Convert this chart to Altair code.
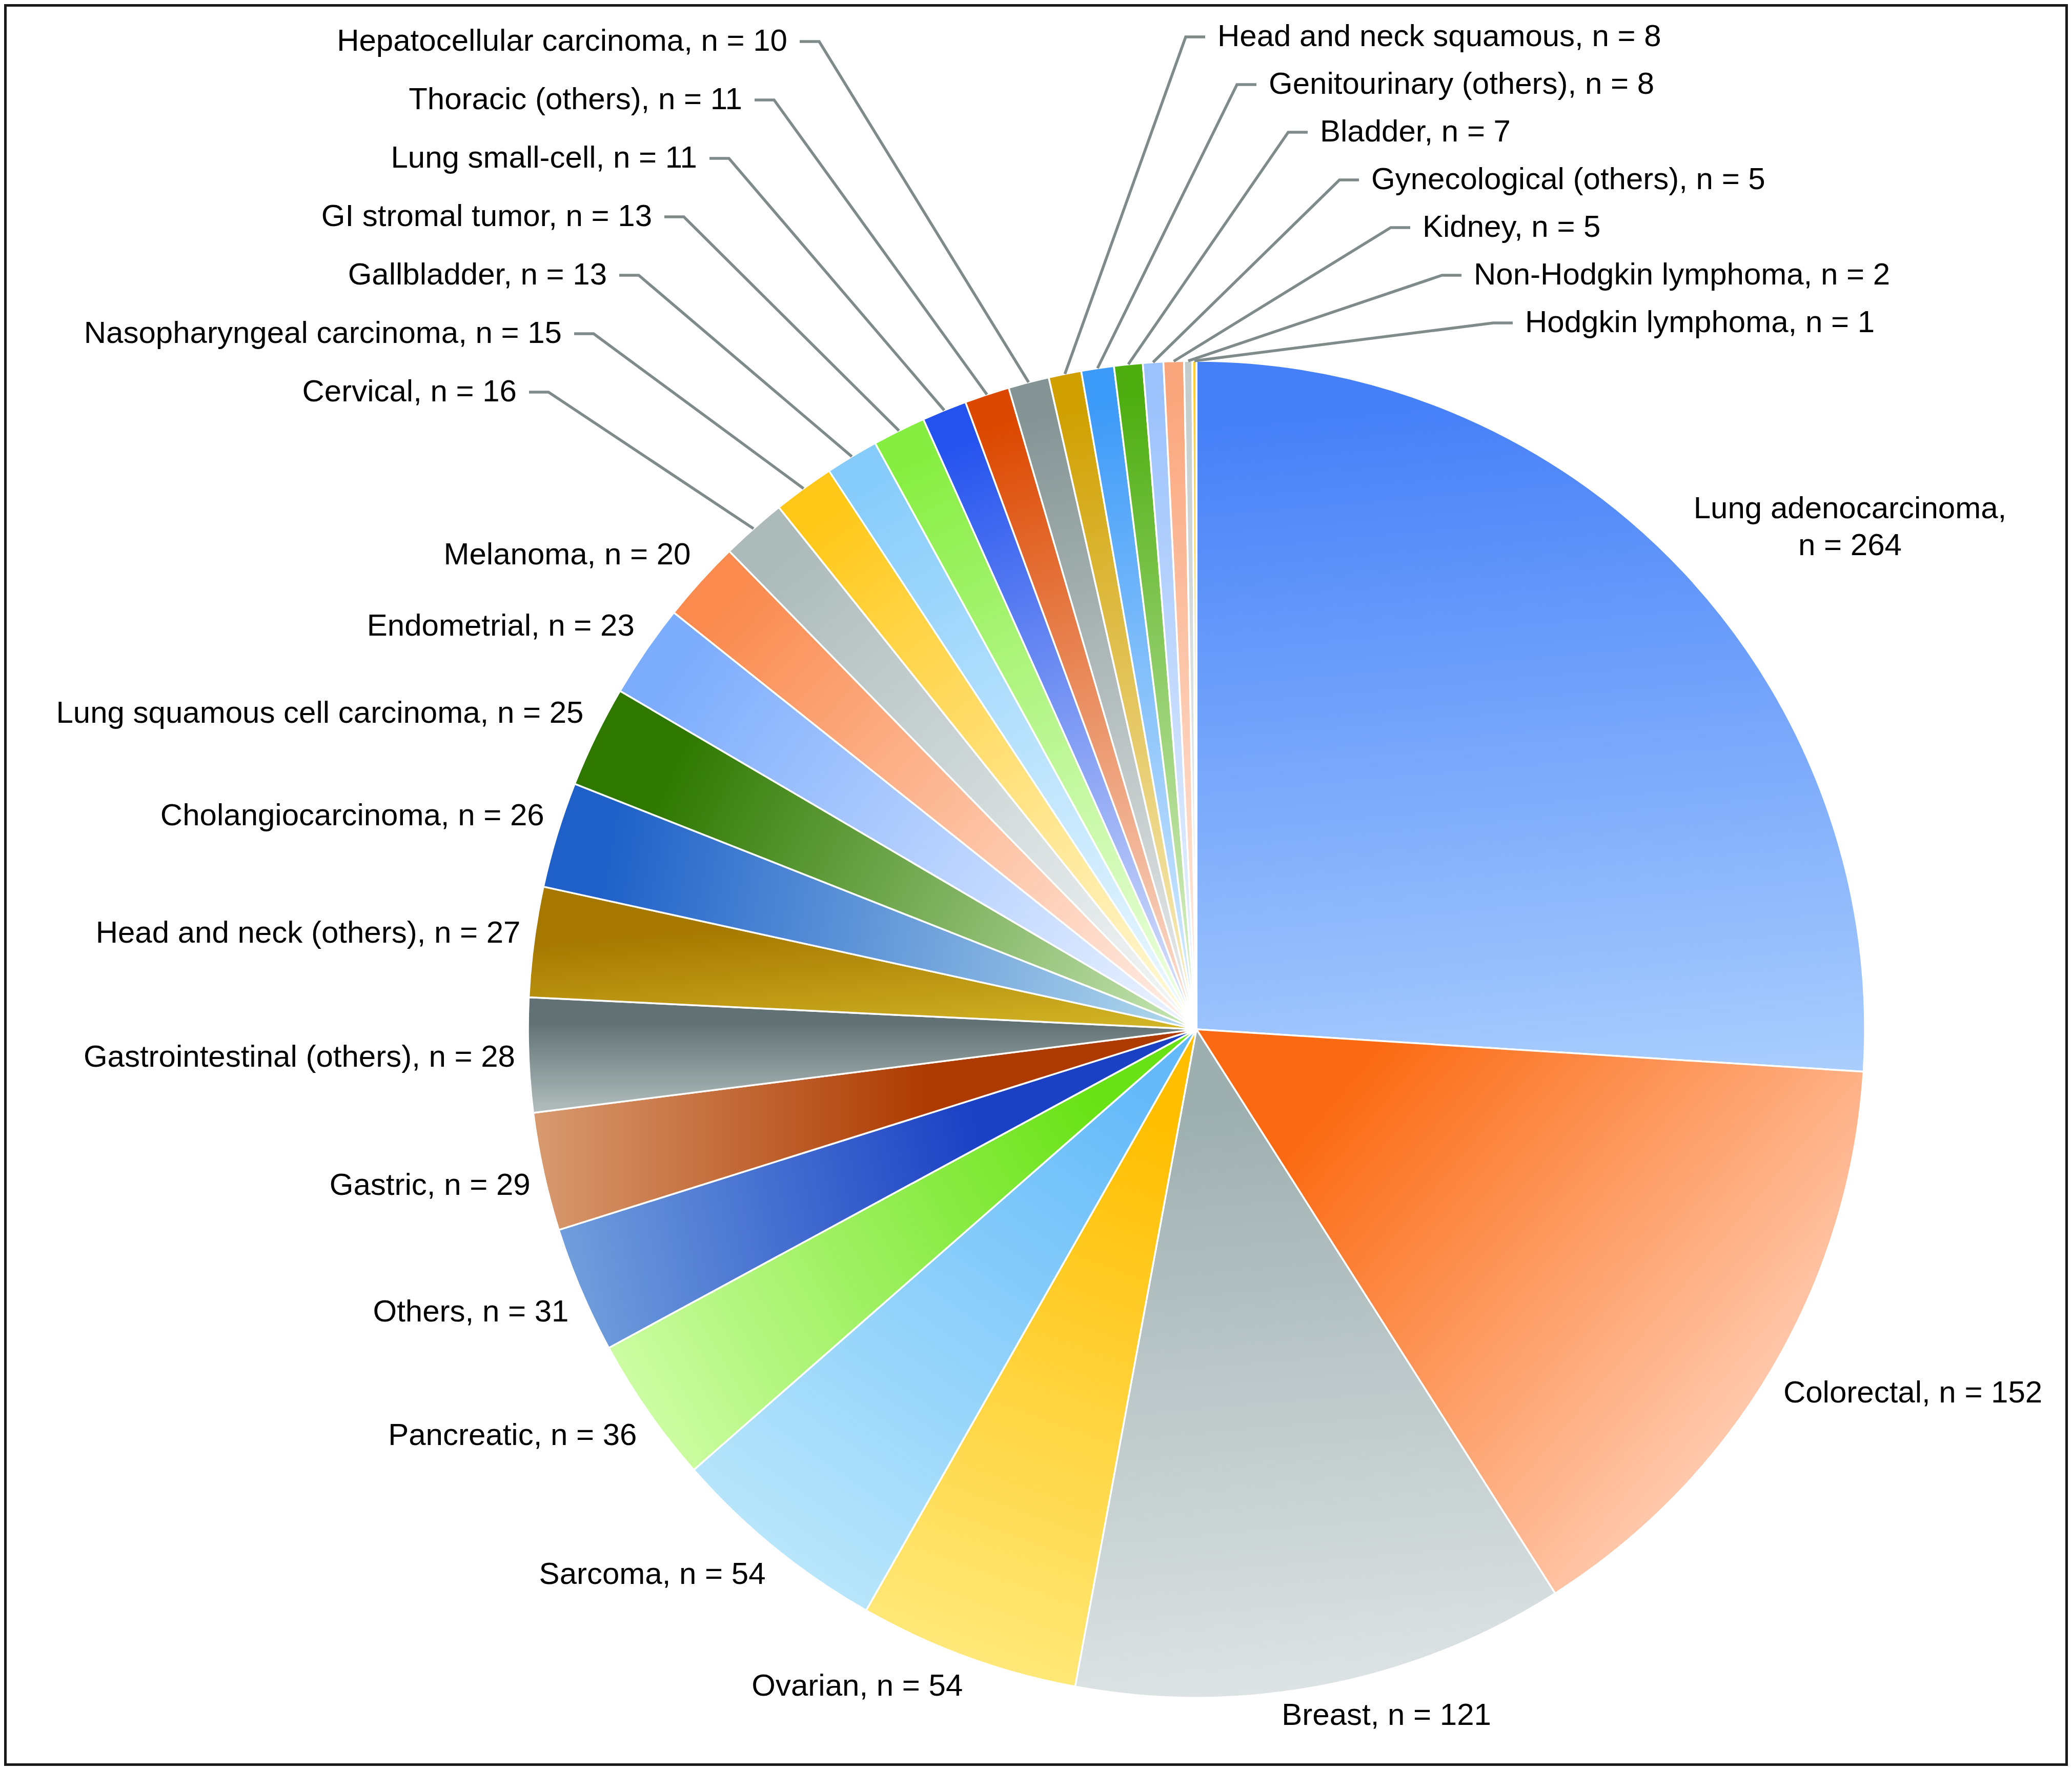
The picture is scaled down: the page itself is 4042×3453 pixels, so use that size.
import math
import altair as alt
import pandas as pd

# ---------------- data ----------------
categories = [
    "Lung adenocarcinoma", "Colorectal", "Breast", "Ovarian", "Sarcoma",
    "Pancreatic", "Others", "Gastric", "Gastrointestinal (others)",
    "Head and neck (others)", "Cholangiocarcinoma", "Lung squamous cell carcinoma",
    "Endometrial", "Melanoma", "Cervical", "Nasopharyngeal carcinoma", "Gallbladder",
    "GI stromal tumor", "Lung small-cell", "Thoracic (others)", "Hepatocellular carcinoma",
    "Head and neck squamous", "Genitourinary (others)", "Bladder",
    "Gynecological (others)", "Kidney", "Non-Hodgkin lymphoma", "Hodgkin lymphoma",
]
counts = [264, 152, 121, 54, 54, 36, 31, 29, 28, 27, 26, 25, 23, 20, 16, 15, 13, 13,
          11, 11, 10, 8, 8, 7, 5, 5, 2, 1]

# ---------------- styles ----------------
dark_colors = [
    "#4680F8", "#FB6A12", "#9EAFB0", "#FFBE00", "#64BAF9", "#68E214", "#1A40C4",
    "#AD3A00", "#627274", "#A67800", "#1E60C8", "#2E7800", "#7CACFC", "#FA8A4E",
    "#ACBABA", "#FFC818", "#86CCFA", "#86EE40", "#2452EE", "#DC4800", "#849494",
    "#D0A000", "#3C9AF8", "#4EAE10", "#9CC2FC", "#FAA67C", "#C4CCCC", "#FFD030",
]
light_colors = [
    "#AACEFD", "#FFC8AC", "#DDE3E4", "#FFE878", "#B8E6FB", "#CCFCA2", "#709EDC",
    "#D89A70", "#B2BEBE", "#D4B828", "#B4DAEC", "#C8E6B6", "#EEF4FF", "#FFF0EA",
    "#F6F8F8", "#FFFAE0", "#F0FAFF", "#F2FFE8", "#E0E8FA", "#FBE4D8", "#ECEEEE",
    "#FAF0C8", "#E0F0FE", "#E4F4D8", "#F0F6FF", "#FFF0E8", "#F4F6F6", "#FFF8D8",
]
hold_stops = [0.08, 0.22, 0.12, 0.15, 0.12, 0.18, 0.35, 0.4, 0.22, 0.28, 0.08, 0.12,
              0.05, 0.05, 0.05, 0.05, 0.05, 0.05, 0.05, 0.05, 0.05, 0.05, 0.05, 0.05,
              0.05, 0.05, 0.05, 0.05]
# direction of the gradient (dark -> light), degrees clockwise from "up"
grad_angle = [175, 130, 175, 200, 215, 240, 258, 270, 180, 175, 100, 115, 125, 132,
              138, 144, 150, 155, 158, 162, 165, 170, 172, 174, 176, 178, 180, 180]
wrapped = {"Lung adenocarcinoma"}

W, H = 4026, 3437
CX, CY = 2326, 2000          # pie centre in chart pixels
R = 1304
FONT = "Liberation Sans"
FS = 60
LINE_H = 72
TEXT_H = 66
GAP = 26
LINE_COLOR = "#7F8B8B"

TOTAL = sum(counts)
df = pd.DataFrame({"idx": list(range(len(categories))), "cat": categories, "n": counts})

# ---------------- geometry helpers ----------------
cum, starts, ends = 0, [], []
for v in counts:
    starts.append(cum)
    cum += v
    ends.append(cum)
ang = lambda v: v / TOTAL * 2 * math.pi


def pt(a, r):
    return (CX + r * math.sin(a), CY - r * math.cos(a))


def gradient(i):
    a0, a1 = ang(starts[i]), ang(ends[i])
    pts = [(CX, CY)] + [pt(a0 + (a1 - a0) * k / 240, R) for k in range(241)]
    xs = [p[0] for p in pts]
    ys = [p[1] for p in pts]
    x0, y0 = min(xs), min(ys)
    w = max(max(xs) - x0, 1e-6)
    h = max(max(ys) - y0, 1e-6)
    phi = math.radians(grad_angle[i])
    gx, gy = w * math.sin(phi), -h * math.cos(phi)
    nrm = math.hypot(gx, gy)
    gx, gy = gx / nrm, gy / nrm
    s = [((p[0] - x0) / w) * gx + ((p[1] - y0) / h) * gy for p in pts]
    smin, smax = min(s), max(s)
    return {
        "gradient": "linear",
        "x1": smin * gx, "y1": smin * gy, "x2": smax * gx, "y2": smax * gy,
        "stops": [
            {"offset": 0, "color": dark_colors[i]},
            {"offset": hold_stops[i], "color": dark_colors[i]},
            {"offset": 1, "color": light_colors[i]},
        ],
    }


CW = {" ": 278, ",": 278, "=": 584, "(": 333, ")": 333, "-": 333, ".": 278}
CW.update({d: 556 for d in "0123456789"})
CW.update(dict(zip("abcdefghijklmnopqrstuvwxyz",
                   [556, 556, 500, 556, 556, 278, 556, 556, 222, 222, 500, 222, 833,
                    556, 556, 556, 556, 333, 500, 278, 556, 500, 722, 500, 500, 500])))
CW.update(dict(zip("ABCDEFGHIJKLMNOPQRSTUVWXYZ",
                   [667, 667, 722, 722, 667, 611, 778, 722, 278, 500, 667, 556, 833,
                    722, 778, 667, 778, 722, 667, 611, 722, 667, 944, 667, 667, 611])))


def text_w(s):
    return sum(CW.get(c, 556) for c in s) / 1000 * FS


clip = lambda v: max(-1.0, min(1.0, v))

# ---------------- labels & leader lines ----------------
leader_idx = [i for i, v in enumerate(counts) if v <= 16]
half = len(leader_idx) // 2
left_group, right_group = leader_idx[:half], leader_idx[half:]

label_rows, line_rows = [], []
for i, (c, v) in enumerate(zip(categories, counts)):
    mid = ang((starts[i] + ends[i]) / 2)
    sep = ",\n" if c in wrapped else ", "
    label = f"{c}{sep}n = {v}"
    if i in left_group or i in right_group:
        ex, ey = pt(mid, R)
        if i in left_group:
            j = left_group[-1] - i
            bx, by = 1590 - 88 * j, 73 + 114 * j
            hx = bx - 38
            tx, al = hx - 24, "right"
        else:
            j = i - right_group[0]
            bx, by = 2305 + 100 * j, 64 + 93 * j
            hx = bx + 38
            tx, al = hx + 24, "left"
        for s, (x, y) in enumerate([(ex, ey), (bx, by), (hx, by)]):
            line_rows.append({"key": c, "seq": s, "x": x, "y": y})
        label_rows.append({"label": label, "x": tx, "y": by, "al": al})
        continue
    px, py = pt(mid, R + GAP)
    fx = 0.5 - 0.5 * clip(3 * math.sin(mid))
    fy = 0.5 + 0.5 * clip(3 * math.cos(mid))
    lines = label.split("\n")
    w = max(text_w(t) for t in lines)
    h = TEXT_H + (len(lines) - 1) * LINE_H
    left = px - fx * w
    cy = py - fy * h + h / 2 - (len(lines) - 1) * LINE_H / 2   # first-line centre
    if len(lines) > 1 or 0.01 < fx < 0.99:
        tx, al = left + w / 2, "center"
    elif fx <= 0.01:
        tx, al = left, "left"
    else:
        tx, al = left + w, "right"
    label_rows.append({"label": label, "x": tx, "y": cy, "al": al})

labels_df = pd.DataFrame(label_rows)
lines_df = pd.DataFrame(line_rows)

XS = alt.Scale(domain=[0, W], nice=False, zero=False)
YS = alt.Scale(domain=[0, H], reverse=True, nice=False, zero=False)

# ---------------- slices ----------------
base = (
    alt.Chart(df)
    .transform_window(cum="sum(n)", sort=[alt.SortField("idx")], frame=[None, 0])
    .transform_calculate(start="datum.cum - datum.n")
)
slices = []
for i in range(len(categories)):
    slices.append(
        base.transform_filter(alt.datum.idx == i)
        .mark_arc(x=CX, y=CY, outerRadius=R, fill=gradient(i), stroke="white",
                  strokeWidth=3.5)
        .encode(
            theta=alt.Theta("start:Q", stack=False,
                            scale=alt.Scale(domain=[0, TOTAL], range=[0, 2 * math.pi])),
            theta2="cum:Q",
        )
    )

leaders = alt.Chart(lines_df).mark_line(color=LINE_COLOR, strokeWidth=5.5).encode(
    x=alt.X("x:Q", scale=XS, axis=None),
    y=alt.Y("y:Q", scale=YS, axis=None),
    detail="key:N",
    order="seq:Q",
)

texts = []
for al in ["left", "right", "center"]:
    texts.append(
        alt.Chart(labels_df)
        .transform_filter(alt.datum.al == al)
        .mark_text(align=al, baseline="middle", font=FONT, fontSize=FS, color="#000000",
                   lineBreak="\n", lineHeight=LINE_H)
        .encode(
            x=alt.X("x:Q", scale=XS, axis=None),
            y=alt.Y("y:Q", scale=YS, axis=None),
            text="label:N",
        )
    )

chart = (
    alt.layer(*slices, leaders, *texts)
    .properties(width=W, height=H, autosize="none", padding=0, background="white")
    .configure_view(stroke="#1a1a1a", strokeWidth=10)
)

chart.save("out.html", embed_options={"renderer": "svg", "actions": False})
